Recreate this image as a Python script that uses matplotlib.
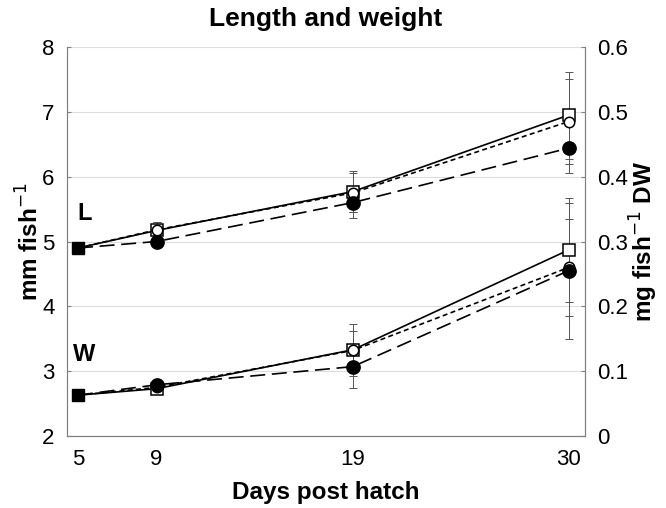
import matplotlib.pyplot as plt

plt.rcParams["font.family"] = ["Liberation Sans", "DejaVu Sans"]

days = [5, 9, 19, 30]

# length (mm fish-1), left axis
len_sq = [4.9, 5.17, 5.77, 6.95]
len_oc = [4.9, 5.18, 5.75, 6.85]
len_fc = [4.9, 5.0, 5.6, 6.44]
len_sq_err = [0, 0.13, 0.31, 0.67]
len_oc_err = [0, 0.12, 0.3, 0.65]
len_fc_err = [0, 0.08, 0.24, 0.38]

# weight (mg fish-1 DW), right axis
wt_sq = [0.063, 0.073, 0.133, 0.287]
wt_oc = [0.063, 0.075, 0.132, 0.26]
wt_fc = [0.063, 0.079, 0.107, 0.255]
wt_sq_err = [0, 0.004, 0.04, 0.08]
wt_oc_err = [0, 0.004, 0.03, 0.075]
wt_fc_err = [0, 0.004, 0.033, 0.105]

styles = [
    dict(ls="-", marker="s", mfc="white", ms=8),
    dict(ls=(0, (3, 2)), marker="o", mfc="white", ms=7.5),
    dict(ls=(0, (9, 4)), marker="o", mfc="black", ms=9.5),
]

fig = plt.figure(figsize=(6.66, 5.08), dpi=100)
ax = fig.add_axes([0.1006, 0.1417, 0.7772, 0.7658])
ax2 = ax.twinx()

grey = "#808080"
ebar = "#555555"


def draw(a, ys, errs):
    for y, e in zip(ys, errs):
        a.errorbar(days[1:], y[1:], yerr=e[1:], fmt="none", ecolor=ebar,
                   elinewidth=0.7, capsize=3, capthick=0.7, zorder=2)
    for y, st in zip(ys, styles):
        a.plot(days, y, color="black", lw=1.2, ls=st["ls"], marker=st["marker"],
               mfc=st["mfc"], mec="black", ms=st["ms"], mew=1.1,
               markevery=[1, 2, 3], zorder=3)
    a.plot(days[0], ys[0][0], marker="s", color="black", ms=9, zorder=4)


draw(ax, [len_sq, len_oc, len_fc], [len_sq_err, len_oc_err, len_fc_err])
draw(ax2, [wt_sq, wt_oc, wt_fc], [wt_sq_err, wt_oc_err, wt_fc_err])

ax.set_xlim(4.44, 30.81)
ax.set_ylim(2, 8)
ax2.set_ylim(0, 0.6)
ax.set_xticks(days)
ax.set_yticks(range(2, 9))
ax2.set_yticks([0, 0.1, 0.2, 0.3, 0.4, 0.5, 0.6])
ax2.set_yticklabels(["0", "0.1", "0.2", "0.3", "0.4", "0.5", "0.6"])

ax.grid(axis="y", color="#dddddd", lw=0.8)
ax.set_axisbelow(True)

for a in (ax, ax2):
    a.spines["top"].set_visible(False)
    for s in ("left", "right", "bottom"):
        a.spines[s].set_color(grey)
    a.tick_params(labelsize=16, colors="black", length=3, direction="in", pad=9)
ax.tick_params(axis="y", color=grey)
ax2.tick_params(axis="y", color=grey)
ax.tick_params(axis="x", length=0, pad=9)

ax.text(4.95, 5.33, "L", fontsize=17, fontweight="bold")
ax.text(4.75, 3.15, "W", fontsize=17, fontweight="bold")

ax.set_title("Length and weight", fontsize=19, fontweight="bold", pad=15)
ax.set_xlabel("Days post hatch", fontsize=17.5, fontweight="bold", labelpad=8)
ax.set_ylabel("mm fish$^{-1}$", fontsize=17.5, fontweight="bold", labelpad=-1)
ax2.set_ylabel("mg fish$^{-1}$ DW", fontsize=17.5, fontweight="bold", labelpad=0)

fig.savefig("out.png", dpi=100)
